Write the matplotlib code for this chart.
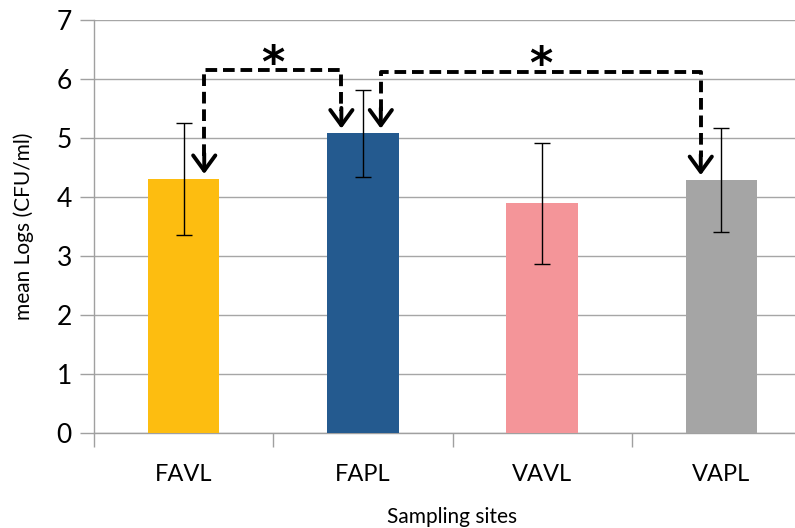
import matplotlib
matplotlib.use("Agg")
import matplotlib.pyplot as plt

categories = ["FAVL", "FAPL", "VAVL", "VAPL"]
means = [4.31, 5.08, 3.89, 4.29]
errors = [0.95, 0.74, 1.02, 0.88]
colors = ["#FDBD10", "#245A8F", "#F49599", "#A5A5A5"]
yticks = [0, 1, 2, 3, 4, 5, 6, 7]

plt.rcParams['font.family'] = ['Lato', 'DejaVu Sans']

fig = plt.figure(figsize=(7.95, 5.28), dpi=100)
W, H = 795, 528
left, right, top, bottom = 94, 811, 20, 433
ax = fig.add_axes([left / W, 1 - bottom / H, (right - left) / W, (bottom - top) / H])

x = list(range(len(categories)))
ax.bar(x, means, width=0.40, color=colors, zorder=3)
ax.errorbar(x, means, yerr=errors, fmt='none', ecolor='black', elinewidth=1,
            capsize=6, capthick=1, zorder=4)

ax.set_xlim(-0.5, 3.5)
ax.set_ylim(0, 7)
ax.set_yticks(yticks)
ax.set_yticklabels([str(t) for t in yticks], fontsize=19)
ax.set_xticks(x)
ax.set_xticklabels(categories, fontsize=17)
ax.set_xticks([-0.5, 0.5, 1.5, 2.5, 3.5], minor=True)
ax.tick_params(axis='x', which='major', length=0, pad=22)
ax.tick_params(axis='x', which='minor', length=10, color='#A0A0A0', width=1)
ax.tick_params(axis='y', length=10, color='#A0A0A0', width=1, pad=6)
ax.grid(axis='y', color='#A6A6A6', linewidth=1, zorder=0)
for s in ['top', 'right']:
    ax.spines[s].set_visible(False)
for s in ['left', 'bottom']:
    ax.spines[s].set_color('#A0A0A0')
    ax.spines[s].set_linewidth(1)

ax.set_ylabel("mean Logs (CFU/ml)", fontsize=15, labelpad=16)
ax.set_xlabel("Sampling sites", fontsize=15, labelpad=16)


def bracket(i, j, xi, xj, ybar, ystar):
    # xi, xj: horizontal offsets from bar centres
    x1 = i + xi
    x2 = j + xj
    y1 = means[i] + 0.08
    y2 = means[j] + 0.08
    ax.plot([x1, x1, x2, x2], [y1 + 0.3, ybar, ybar, y2 + 0.3], color='black',
            linestyle=(0, (3, 1.5)), linewidth=2.8, zorder=6, solid_capstyle='butt')
    for xx, yy in ((x1, y1), (x2, y2)):
        ax.annotate("", xy=(xx, yy), xytext=(xx, yy + 0.35),
                    arrowprops=dict(arrowstyle="->,head_length=1.1,head_width=0.8",
                                    color='black', lw=2.8, shrinkA=0, shrinkB=0),
                    zorder=7)
    ax.text((x1 + x2) / 2, ystar, "*", ha='center', va='center',
            fontsize=32, fontweight='bold', zorder=7, family='DejaVu Sans')


bracket(0, 1, 0.115, -0.12, 6.15, 6.25)
bracket(1, 3, 0.10, -0.115, 6.12, 6.23)

fig.savefig("out.png", dpi=100)
